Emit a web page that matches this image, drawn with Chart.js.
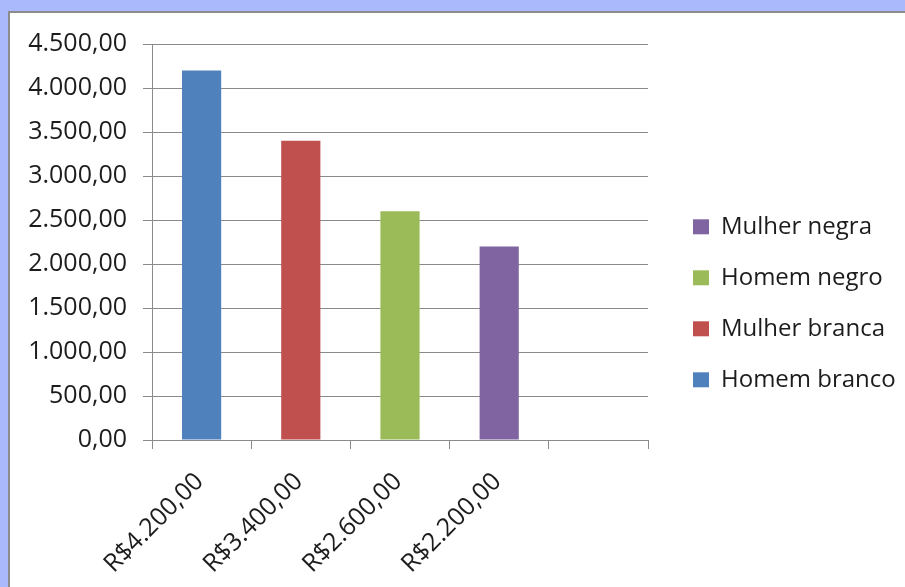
<!DOCTYPE html>
<html>
<head>
<meta charset="utf-8">
<script src="https://cdn.jsdelivr.net/npm/chart.js@4/dist/chart.umd.min.js"></script>
<style>
    html, body { margin: 0; padding: 0; }
    body { width: 905px; height: 587px; background: #a9b9fb; position: relative; overflow: hidden; }
    #panel {
        position: absolute; left: 8px; top: 11px; width: 895px; height: 574px;
        background: #fff; border-top: 2px solid #8c8c8c; border-left: 2px solid #8c8c8c;
    }
    #salarios { display: block; }
</style>
</head>
<body>
<div id="panel"><canvas id="salarios" width="895" height="574"></canvas></div>
<script>
// categorias do eixo x (a última fica vazia)
const categorias = ['R$4.200,00', 'R$3.400,00', 'R$2.600,00', 'R$2.200,00', ''];
const grupos = ['Homem branco', 'Mulher branca', 'Homem negro', 'Mulher negra'];
const salarios = [4200, 3400, 2600, 2200];
const cores = ['#4f81bd', '#c0504d', '#9bbb59', '#8064a2'];

const yMax = 4500;
const yPasso = 500;

// formata no padrão brasileiro: 4.500,00
function formatBR(v) {
    const parts = Number(v).toFixed(2).split('.');
    parts[0] = parts[0].replace(/\B(?=(\d{3})+(?!\d))/g, '.');
    return parts.join(',');
}

// cada grupo só tem valor na sua própria categoria
const datasets = grupos.map((nome, i) => ({
    label: nome,
    data: categorias.map((c, j) => (j === i ? salarios[i] : null)),
    backgroundColor: cores[i],
    borderWidth: 0,
    barPercentage: 0.395,
    categoryPercentage: 1,
}));

const fonte = "'Open Sans', sans-serif";
const corTexto = '#1c1c1c';
const corLinha = '#8a8a8a';

new Chart(document.getElementById('salarios'), {
    type: 'bar',
    data: { labels: categorias, datasets },
    options: {
        responsive: false,
        animation: false,
        layout: { padding: { left: 0, top: 30, right: 0, bottom: 0 } },
        scales: {
            x: {
                stacked: true,
                grid: { offset: true, drawOnChartArea: false, drawTicks: true, tickLength: 9, color: corLinha },
                border: { color: corLinha },
                ticks: {
                    maxRotation: 45, minRotation: 45, padding: 18, labelOffset: -2,
                    color: corTexto, font: { family: fonte, size: 25 },
                },
                afterFit: (s) => { s.height = 147; },
            },
            y: {
                stacked: true,
                min: 0, max: yMax,
                grid: { color: corLinha, tickLength: 9 },
                border: { color: corLinha },
                ticks: {
                    stepSize: yPasso, padding: 16,
                    color: corTexto, font: { family: fonte, size: 25 },
                    callback: (v) => formatBR(v),
                },
                afterFit: (s) => { s.width = 142; },
            },
            // espaço entre a área do gráfico e a legenda
            folga: {
                position: 'right',
                display: true,
                grid: { display: false },
                border: { display: false },
                ticks: { display: false },
                afterFit: (s) => { s.width = 18; },
            },
        },
        plugins: {
            legend: {
                position: 'right',
                align: 'start',
                reverse: true,
                maxWidth: 239,
                // título vazio só para descer os itens da legenda
                title: { display: true, text: '', font: { size: 24 }, padding: { top: 116, bottom: 0 } },
                labels: {
                    boxWidth: 16, boxHeight: 15, padding: 27,
                    color: corTexto, font: { family: fonte, size: 24 },
                },
            },
            tooltip: { enabled: false },
        },
    },
});
</script>
</body>
</html>
